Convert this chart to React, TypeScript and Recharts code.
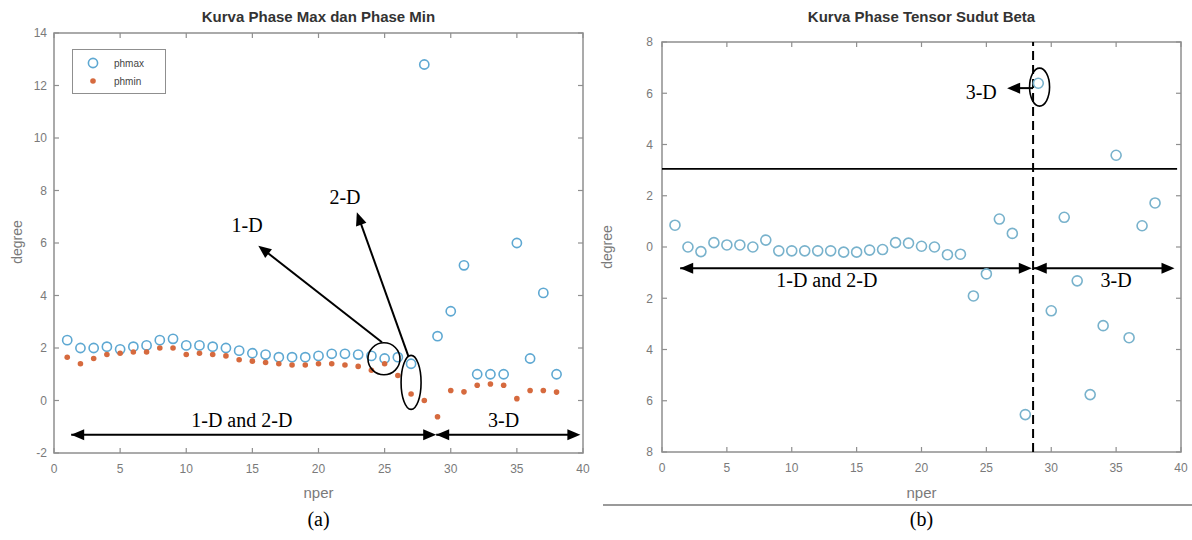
import React from 'react';
import { ScatterChart, Scatter, XAxis, YAxis, ReferenceLine, ReferenceDot, ReferenceArea } from 'recharts';

// period index (nper)
const nper = [
  1, 2, 3, 4, 5, 6, 7, 8, 9, 10, 11, 12, 13, 14, 15, 16, 17, 18, 19,
  20, 21, 22, 23, 24, 25, 26, 27, 28, 29, 30, 31, 32, 33, 34, 35, 36, 37, 38,
];

// (a) phase max / phase min, degree
const phmax = [
  2.3, 2.0, 2.0, 2.05, 1.95, 2.05, 2.1, 2.3, 2.35, 2.1, 2.1, 2.05, 2.0, 1.9, 1.8, 1.75, 1.65, 1.65, 1.65,
  1.7, 1.78, 1.78, 1.75, 1.7, 1.6, 1.65, 1.4, 12.8, 2.45, 3.4, 5.15, 1.0, 1.0, 1.0, 6.0, 1.6, 4.1, 1.0,
];
const phmin = [
  1.65, 1.4, 1.6, 1.75, 1.8, 1.85, 1.85, 2.0, 2.0, 1.75, 1.8, 1.75, 1.7, 1.55, 1.5, 1.45, 1.4, 1.35, 1.35,
  1.4, 1.4, 1.35, 1.3, 1.15, 1.4, 0.95, 0.25, 0.0, -0.62, 0.38, 0.33, 0.58, 0.63, 0.58, 0.07, 0.38, 0.38, 0.32,
];

// (b) phase tensor beta angle, degree
const beta = [
  0.85, 0.0, -0.18, 0.17, 0.08, 0.08, 0.0, 0.27, -0.15, -0.15, -0.15, -0.15, -0.15, -0.2, -0.2, -0.12, -0.1, 0.17, 0.15,
  0.03, 0.0, -0.3, -0.28, -1.91, -1.05, 1.09, 0.53, -6.54, 6.39, -2.49, 1.16, -1.32, -5.76, -3.07, 3.58, -3.54, 0.83, 1.72,
];

const xTicks = [0, 5, 10, 15, 20, 25, 30, 35, 40];
const yTicksA = [-2, 0, 2, 4, 6, 8, 10, 12, 14];
const yTicksB = [-8, -6, -4, -2, 0, 2, 4, 6, 8];

const maxData = nper.map((n, i) => ({ nper: n, v: phmax[i] }));
const minData = nper.map((n, i) => ({ nper: n, v: phmin[i] }));
const betaData = nper.map((n, i) => ({ nper: n, v: beta[i] }));

const BLUE = '#5ea8d2';
const BLUE_B = '#78b2cc';
const ORANGE = '#d66a3e';
const AXIS = '#8f8f8f';
const TICK = '#7a7a7a';
const SANS = '"Liberation Sans", Arial, sans-serif';
const SERIF = '"Liberation Serif", "Times New Roman", serif';

const seriesA = [
  { name: 'phmax', data: maxData, color: BLUE, kind: 'ring' },
  { name: 'phmin', data: minData, color: ORANGE, kind: 'dot' },
];

const ring = (color: string, r: number) => (p: any) =>
  <circle cx={p.cx} cy={p.cy} r={r} fill="none" stroke={color} strokeWidth={1.6} />;
const dot = (color: string) => (p: any) => <circle cx={p.cx} cy={p.cy} r={2.8} fill={color} />;

const headPts = (x: number, y: number, a: number) => {
  const L = 13, W = 5.5;
  const bx = x - L * Math.cos(a), by = y - L * Math.sin(a);
  return `${x},${y} ${bx + W * Math.sin(a)},${by - W * Math.cos(a)} ${bx - W * Math.sin(a)},${by + W * Math.cos(a)}`;
};

const arrow = (both: boolean) => (p: any) => {
  const { x1, y1, x2, y2 } = p;
  const a = Math.atan2(y2 - y1, x2 - x1);
  return (
    <g>
      <line x1={x1} y1={y1} x2={x2 - 8 * Math.cos(a)} y2={y2 - 8 * Math.sin(a)} stroke="#000" strokeWidth={2} />
      <polygon points={headPts(x2, y2, a)} fill="#000" />
      {both && <polygon points={headPts(x1, y1, a + Math.PI)} fill="#000" />}
    </g>
  );
};

const ellipse = (rx: number, ry: number) => (p: any) =>
  <ellipse cx={p.cx} cy={p.cy} rx={rx} ry={ry} fill="none" stroke="#000" strokeWidth={1.6} />;

const note = (txt: string) => (p: any) => (
  <text x={p.cx} y={p.cy} textAnchor="middle" dominantBaseline="central" fontFamily={SERIF} fontSize={20} fill="#000">
    {txt}
  </text>
);

// MATLAB-style axes box with inward ticks on all four sides
const frame = (xs: number[], ys: number[], xd: number[], yd: number[]) => (p: any) => {
  const { x, y, width, height } = p;
  const px = (v: number) => x + ((v - xd[0]) / (xd[1] - xd[0])) * width;
  const py = (v: number) => y + height - ((v - yd[0]) / (yd[1] - yd[0])) * height;
  const L = 5;
  return (
    <g stroke={AXIS} fill="none">
      <rect x={x} y={y} width={width} height={height} strokeWidth={1.5} />
      {xs.map((t) => (
        <g key={`x${t}`} strokeWidth={1.2}>
          <line x1={px(t)} y1={y + height} x2={px(t)} y2={y + height - L} />
          <line x1={px(t)} y1={y} x2={px(t)} y2={y + L} />
        </g>
      ))}
      {ys.map((t) => (
        <g key={`y${t}`} strokeWidth={1.2}>
          <line x1={x} y1={py(t)} x2={x + L} y2={py(t)} />
          <line x1={x + width} y1={py(t)} x2={x + width - L} y2={py(t)} />
        </g>
      ))}
    </g>
  );
};

const label = (style: React.CSSProperties, text: string) => (
  <div style={{ position: 'absolute', whiteSpace: 'nowrap', fontFamily: SANS, ...style }}>{text}</div>
);

const axisProps = {
  axisLine: false,
  tickLine: false,
  tickSize: 0,
};
const tickStyle = { fill: TICK, fontSize: 12, fontFamily: SANS };

const App = () => {
  return (
    <div style={{ position: 'absolute', left: 0, top: 0, width: 1192, height: 540, background: '#fff', overflow: 'hidden' }}>
      {/* (a) */}
      <div style={{ position: 'absolute', left: 0, top: 0 }}>
        <ScatterChart width={600} height={540} margin={{ top: 33, right: 17, bottom: 57, left: 0 }}>
          <XAxis dataKey="nper" type="number" domain={[0, 40]} ticks={xTicks} {...axisProps} tickMargin={11}
            tick={tickStyle} height={30} />
          <YAxis dataKey="v" type="number" domain={[-2, 14]} ticks={yTicksA} {...axisProps} tickMargin={7}
            tick={tickStyle} width={54} />
          <ReferenceArea x1={0} x2={40} y1={-2} y2={14} shape={frame(xTicks, yTicksA, [0, 40], [-2, 14])} />
          {seriesA.map((s) => (
            <Scatter key={s.name} name={s.name} data={s.data} isAnimationActive={false}
              shape={s.kind === 'ring' ? ring(s.color, 4.6) : dot(s.color)} />
          ))}
          <ReferenceLine segment={[{ x: 1.3, y: -1.3 }, { x: 28.9, y: -1.3 }]} shape={arrow(true)} />
          <ReferenceLine segment={[{ x: 28.9, y: -1.3 }, { x: 39.8, y: -1.3 }]} shape={arrow(true)} />
          <ReferenceDot x={14.2} y={-0.75} shape={note('1-D and 2-D')} />
          <ReferenceDot x={34} y={-0.75} shape={note('3-D')} />
          <ReferenceLine segment={[{ x: 24.8, y: 2.22 }, { x: 15.45, y: 5.9 }]} shape={arrow(false)} />
          <ReferenceLine segment={[{ x: 26.8, y: 1.68 }, { x: 22.9, y: 7.17 }]} shape={arrow(false)} />
          <ReferenceDot x={14.6} y={6.7} shape={note('1-D')} />
          <ReferenceDot x={22} y={7.75} shape={note('2-D')} />
          <ReferenceDot x={24.95} y={1.59} shape={ellipse(16, 16)} />
          <ReferenceDot x={27} y={0.69} shape={ellipse(10, 27)} />
        </ScatterChart>
      </div>
      {label({ left: 54, width: 529, top: 8, textAlign: 'center', fontSize: 15, fontWeight: 'bold', color: '#333' }, 'Kurva Phase Max dan Phase Min')}
      {label({ left: 54, width: 529, top: 484, textAlign: 'center', fontSize: 15, color: TICK }, 'nper')}
      {label({ left: 17, top: 242, fontSize: 14, color: TICK, transform: 'translate(-50%, -50%) rotate(-90deg)' }, 'degree')}
      {label({ left: 54, width: 529, top: 508, textAlign: 'center', fontSize: 20, fontFamily: SERIF, color: '#000' }, '(a)')}
      <div style={{ position: 'absolute', left: 72, top: 49, width: 92, height: 43, border: `1px solid ${AXIS}`, background: '#fff', fontFamily: SANS, fontSize: 10, color: '#444' }}>
        {seriesA.map((s, i) => (
          <div key={s.name} style={{ position: 'absolute', left: 12, top: 6 + i * 18, display: 'flex', alignItems: 'center' }}>
            <svg width={16} height={14}>
              {s.kind === 'ring'
                ? <circle cx={8} cy={7} r={4.6} fill="none" stroke={s.color} strokeWidth={1.6} />
                : <circle cx={8} cy={7} r={2.8} fill={s.color} />}
            </svg>
            <span style={{ marginLeft: 13 }}>{s.name}</span>
          </div>
        ))}
      </div>

      {/* (b) */}
      <div style={{ position: 'absolute', left: 600, top: 0 }}>
        <ScatterChart width={592} height={540} margin={{ top: 42, right: 11, bottom: 58, left: 0 }}>
          <XAxis dataKey="nper" type="number" domain={[0, 40]} ticks={xTicks} {...axisProps} tickMargin={11}
            tick={tickStyle} height={30} />
          <YAxis dataKey="v" type="number" domain={[-8, 8]} ticks={yTicksB} {...axisProps} tickMargin={9}
            tick={tickStyle} width={62} tickFormatter={(v: number) => String(Math.abs(v))} />
          <ReferenceArea x1={0} x2={40} y1={-8} y2={8} shape={frame(xTicks, yTicksB, [0, 40], [-8, 8])} />
          <Scatter name="beta" data={betaData} isAnimationActive={false} shape={ring(BLUE_B, 5)} />
          <ReferenceLine segment={[{ x: 0, y: 3.05 }, { x: 39.7, y: 3.05 }]} stroke="#000" strokeWidth={1.6} />
          <ReferenceLine x={28.6} stroke="#000" strokeWidth={2} strokeDasharray="9 5" />
          <ReferenceLine segment={[{ x: 1.4, y: -0.83 }, { x: 28.5, y: -0.83 }]} shape={arrow(true)} />
          <ReferenceLine segment={[{ x: 28.65, y: -0.83 }, { x: 39.5, y: -0.83 }]} shape={arrow(true)} />
          <ReferenceDot x={12.7} y={-1.28} shape={note('1-D and 2-D')} />
          <ReferenceDot x={35} y={-1.28} shape={note('3-D')} />
          <ReferenceDot x={29.1} y={6.24} shape={ellipse(10, 19)} />
          <ReferenceLine segment={[{ x: 28.6, y: 6.2 }, { x: 26.6, y: 6.2 }]} shape={arrow(false)} />
          <ReferenceDot x={24.6} y={6.05} shape={note('3-D')} />
        </ScatterChart>
      </div>
      {label({ left: 662, width: 519, top: 8, textAlign: 'center', fontSize: 15, fontWeight: 'bold', color: '#333' }, 'Kurva Phase Tensor Sudut Beta')}
      {label({ left: 662, width: 519, top: 484, textAlign: 'center', fontSize: 15, color: TICK }, 'nper')}
      {label({ left: 607, top: 247, fontSize: 14, color: TICK, transform: 'translate(-50%, -50%) rotate(-90deg)' }, 'degree')}
      <div style={{ position: 'absolute', left: 603, top: 504, width: 589, height: 2, background: '#9a9a9a' }} />
      {label({ left: 662, width: 519, top: 508, textAlign: 'center', fontSize: 20, fontFamily: SERIF, color: '#000' }, '(b)')}
    </div>
  );
};

export default App;
